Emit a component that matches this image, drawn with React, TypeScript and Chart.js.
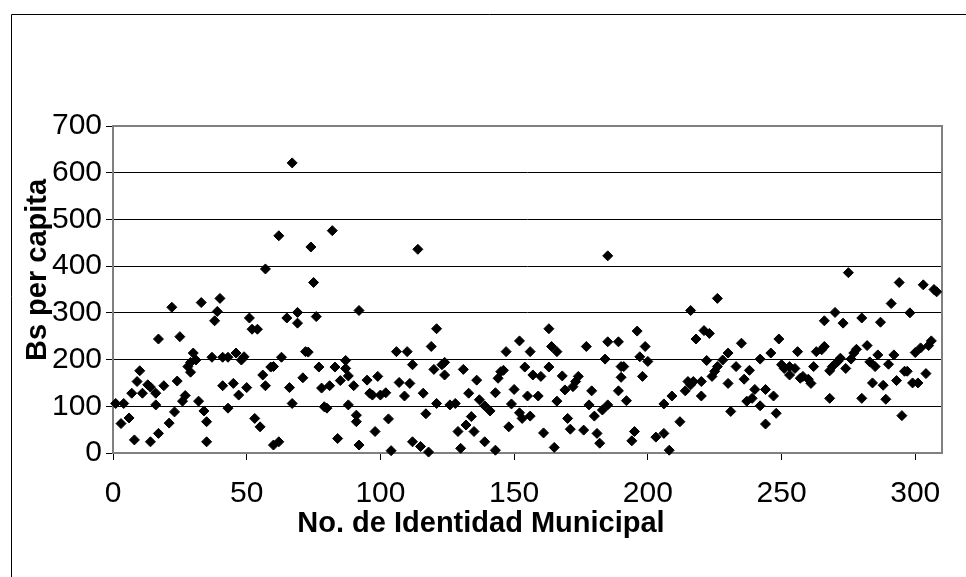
import React, { useEffect, useRef } from "react";
import { Chart, registerables } from "chart.js";

Chart.register(...registerables);

// Municipal identity number (x) and Bs per capita (y)
const municipioIds: number[] = [
  1, 3, 4, 6, 7, 8, 9, 10, 11, 13, 14, 14, 16, 16, 17, 17, 19, 21, 22, 23,
  24, 25, 26, 27, 28, 29, 29, 30, 31, 32, 33, 34, 35, 35, 37, 38, 39, 40, 41, 41,
  43, 43, 45, 46, 47, 48, 49, 50, 51, 52, 53, 54, 55, 56, 57, 57, 59, 60, 60, 62,
  62, 63, 65, 66, 67, 67, 69, 69, 71, 72, 73, 74, 75, 76, 77, 78, 79, 80, 81, 82,
  83, 84, 85, 87, 87, 88, 88, 90, 91, 91, 92, 92, 95, 96, 97, 98, 99, 100, 102, 103,
  104, 106, 107, 109, 110, 111, 112, 112, 114, 115, 116, 117, 118, 119, 120, 121, 121, 123, 124, 124,
  126, 128, 129, 130, 131, 132, 133, 134, 135, 136, 137, 139, 139, 141, 143, 143, 144, 145, 146, 147,
  148, 149, 150, 152, 152, 153, 154, 155, 156, 156, 157, 159, 160, 161, 163, 163, 164, 165, 166, 166,
  168, 169, 170, 171, 172, 173, 174, 176, 177, 178, 179, 180, 181, 182, 183, 184, 185, 185, 185, 189,
  189, 190, 191, 190, 192, 194, 195, 196, 197, 198, 199, 200, 203, 206, 206, 208, 209, 212, 214, 215,
  216, 216, 217, 218, 220, 220, 221, 222, 223, 224, 225, 226, 226, 228, 230, 230, 231, 233, 235, 236,
  237, 238, 239, 240, 242, 242, 244, 244, 246, 247, 248, 249, 250, 251, 253, 253, 255, 256, 257, 258,
  260, 261, 262, 263, 265, 266, 266, 268, 268, 269, 270, 271, 272, 273, 274, 275, 276, 277, 278, 280,
  280, 282, 283, 284, 285, 286, 287, 288, 289, 290, 291, 292, 293, 294, 295, 296, 297, 298, 299, 300,
  301, 302, 303, 304, 305, 306, 307, 308,
];

const bsPerCapita: number[] = [
  106, 63, 106, 75, 128, 28, 153, 176, 128, 146, 24, 141, 103, 128, 42, 244, 144, 64, 312, 88,
  154, 249, 111, 123, 185, 173, 194, 214, 199, 111, 322, 90, 67, 24, 205, 283, 303, 331, 205, 144,
  96, 205, 149, 214, 124, 199, 206, 140, 289, 265, 74, 265, 56, 167, 394, 144, 184, 185, 17, 24,
  465, 205, 289, 140, 106, 621, 301, 278, 161, 217, 216, 441, 365, 292, 184, 139, 99, 96, 144, 476,
  184, 31, 155, 198, 181, 165, 103, 144, 81, 67, 305, 17, 156, 128, 124, 46, 164, 124, 129, 73,
  5, 217, 151, 122, 217, 149, 189, 24, 436, 14, 128, 84, 2, 228, 179, 266, 106, 189, 194, 167,
  103, 106, 46, 10, 179, 60, 128, 78, 46, 156, 114, 101, 24, 90, 129, 6, 160, 174, 177, 217,
  56, 105, 136, 240, 86, 74, 184, 122, 217, 79, 167, 122, 164, 43, 266, 184, 228, 12, 217, 111,
  165, 135, 74, 51, 142, 153, 164, 49, 228, 103, 133, 79, 42, 21, 92, 201, 103, 238, 422, 238,
  133, 185, 185, 162, 112, 26, 46, 261, 206, 164, 228, 196, 34, 42, 105, 6, 122, 67, 133, 153,
  146, 305, 153, 244, 153, 122, 262, 198, 256, 164, 175, 331, 185, 199, 149, 214, 89, 185, 235, 158,
  111, 177, 117, 136, 201, 101, 136, 62, 214, 122, 85, 244, 189, 181, 167, 185, 181, 217, 160, 164,
  158, 149, 185, 217, 221, 228, 283, 117, 176, 185, 301, 196, 203, 278, 181, 386, 201, 214, 222, 117,
  289, 230, 195, 150, 185, 210, 280, 145, 115, 190, 320, 210, 155, 365, 80, 175, 175, 300, 150, 215,
  150, 225, 360, 170, 230, 240, 350, 345,
];

const xTickValues: number[] = [0, 50, 100, 150, 200, 250, 300];
const yTickValues: number[] = [0, 100, 200, 300, 400, 500, 600, 700];

const xTitle = "No. de Identidad Municipal";
const yTitle = "Bs per capita";

const FONT = "'Liberation Sans', Arial, Helvetica, sans-serif";

const decorPlugin = {
  id: "decor",
  beforeDraw(chart: any) {
    const ctx = chart.ctx;
    ctx.save();
    ctx.fillStyle = "#ffffff";
    ctx.fillRect(0, 0, chart.width, chart.height);
    ctx.strokeStyle = "#000000";
    ctx.lineWidth = 1;
    ctx.beginPath();
    ctx.moveTo(11.5, chart.height + 5);
    ctx.lineTo(11.5, 14.5);
    ctx.lineTo(chart.width + 5, 14.5);
    ctx.stroke();
    ctx.restore();
  },
  beforeDatasetsDraw(chart: any) {
    const { left, top, right, bottom } = chart.chartArea;
    const ctx = chart.ctx;
    ctx.save();
    ctx.strokeStyle = "#808080";
    ctx.lineWidth = 2;
    ctx.strokeRect(left, top, right - left, bottom - top);
    ctx.restore();
  },
  afterDraw(chart: any) {
    const ctx = chart.ctx;
    ctx.save();
    ctx.fillStyle = "#000000";
    ctx.font = `bold 29px ${FONT}`;
    ctx.textAlign = "center";
    ctx.textBaseline = "alphabetic";
    ctx.fillText(xTitle, 481, 532);
    ctx.translate(46, 270);
    ctx.rotate(-Math.PI / 2);
    ctx.fillText(yTitle, 0, 0);
    ctx.restore();
  },
};

export default function App() {
  const canvasRef = useRef<HTMLCanvasElement | null>(null);

  useEffect(() => {
    if (!canvasRef.current) return;
    const points = municipioIds.map((x, i) => ({ x, y: bsPerCapita[i] }));
    const chart = new Chart(canvasRef.current, {
      type: "scatter",
      data: {
        datasets: [
          {
            data: points,
            pointStyle: "rectRot",
            pointRadius: 5,
            pointBorderWidth: 1,
            backgroundColor: "#000000",
            borderColor: "#000000",
            clip: false as any,
          },
        ],
      },
      options: {
        animation: false,
        responsive: false,
        devicePixelRatio: 1,
        layout: { padding: { top: 126, right: 24, left: 0, bottom: 0 } },
        plugins: {
          legend: { display: false },
          tooltip: { enabled: false },
          title: { display: false },
        },
        scales: {
          x: {
            type: "linear",
            min: 0,
            max: 310,
            afterFit: (scale: any) => {
              scale.height = 124;
            },
            afterBuildTicks: (scale: any) => {
              scale.ticks = xTickValues.map((v) => ({ value: v }));
            },
            ticks: {
              color: "#000000",
              font: { family: FONT, size: 30 },
              padding: 16,
              maxRotation: 0,
              autoSkip: false,
            },
            grid: {
              drawOnChartArea: false,
              drawTicks: true,
              tickLength: 7,
              color: "#000000",
            },
            border: { display: false },
          },
          y: {
            type: "linear",
            min: 0,
            max: 700,
            afterFit: (scale: any) => {
              scale.width = 113;
            },
            afterBuildTicks: (scale: any) => {
              scale.ticks = yTickValues.map((v) => ({ value: v }));
            },
            ticks: {
              color: "#000000",
              font: { family: FONT, size: 30 },
              padding: 4,
              autoSkip: false,
            },
            grid: {
              drawOnChartArea: true,
              drawTicks: true,
              tickLength: 7,
              color: "#000000",
              lineWidth: 1,
            },
            border: { display: false },
          },
        },
      },
      plugins: [decorPlugin],
    });
    return () => chart.destroy();
  }, []);

  return (
    <div style={{ position: "fixed", left: 0, top: 0, width: 966, height: 577, background: "#fff" }}>
      <canvas ref={canvasRef} width={966} height={577} style={{ display: "block", width: 966, height: 577 }} />
    </div>
  );
}
